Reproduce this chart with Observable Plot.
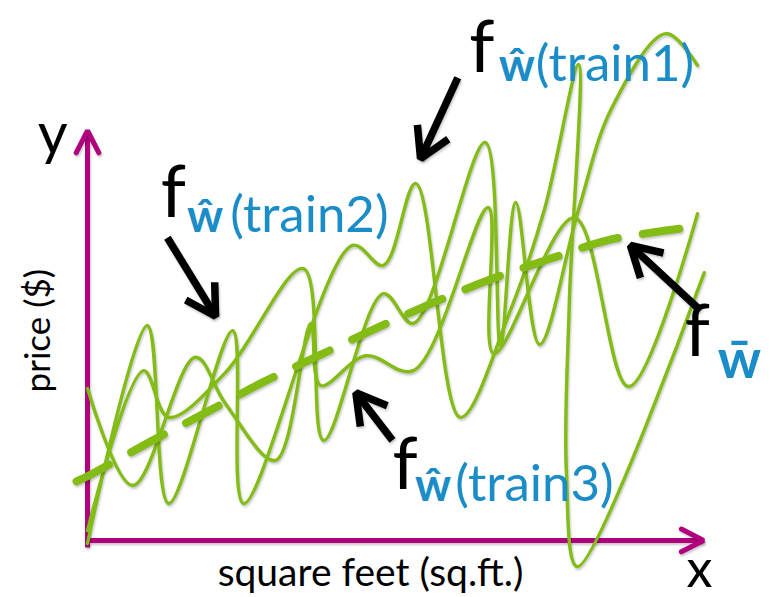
<!DOCTYPE html>
<html>
<head>
<meta charset="utf-8">
<script src="https://cdn.jsdelivr.net/npm/d3@7"></script>
<script src="https://cdn.jsdelivr.net/npm/@observablehq/plot@0.6"></script>
<style>
  html, body { margin: 0; padding: 0; background: #fff; }
  #chart svg { display: block; }
  #chart g.shadowed { filter: drop-shadow(1.5px 2px 1.2px rgba(0,0,0,0.22)); }
</style>
</head>
<body>
<div id="chart"></div>
<script>
// Three high-complexity fits, one per training set (x = square feet, y = price, arbitrary units 0–100)
const train1X = [0.0, 9.8, 13.3, 23.8, 25.6, 43.4, 48.5, 53.8, 61.1, 69.3, 74.9, 80.5, 79.0, 78.5, 80.3, 101.1];
const train1Y = [0.0, 42.5, 7.8, 41.5, 7.8, 58.1, 54.2, 70.2, 24.6, 45.4, 65.1, 93.4, 47.4, 14.2, -4.5, 52.8];

const train2X = [0.0, 9.2, 13.3, 22.6, 35.4, 38.7, 48.5, 53.4, 65.2, 67.7, 70.2, 74.1, 80.5, 85.9, 94.8, 100.0];
const train2Y = [2.5, 33.7, 24.6, 33.3, 53.6, 20.1, 48.7, 42.9, 78.2, 38.6, 66.5, 38.8, 65.1, 84.8, 99.4, 93.2];

const train3X = [0.0, 7.4, 17.7, 22.6, 30.8, 36.6, 38.2, 45.6, 53.4, 65.7, 66.6, 79.8, 88.7, 100.0];
const train3Y = [30.2, 11.3, 36.3, 27.3, 16.2, 42.9, 30.8, 36.6, 33.7, 65.5, 37.0, 63.5, 30.6, 64.3];

// Average of the fits (dashed)
const meanX = [-1.8, 0.8, 10.7, 19.7, 28.7, 37.9, 47.2, 56.4, 66.1, 75.6, 85.2, 94.8, 97.2];
const meanY = [12.1, 13.6, 20.1, 25.7, 31.4, 36.6, 41.9, 46.8, 51.5, 55.4, 59.1, 61.0, 61.4];

// Axis extents
const axisXEnd = 101.0, axisYEnd = 80.5, axisBase = 0.6;

// Callout arrows: tail -> tip
const arrowNames = ["train1", "train2", "train3", "mean"];
const arrowTail = [[60.7, 90.8], [13.1, 59.6], [50.0, 20.1], [100.5, 45.4]];
const arrowTip  = [[54.6, 75.0], [21.0, 44.3], [44.0, 29.4], [89.0, 58.1]];

// Label texts and positions
const fLabelX = [62.6, 12.0, 50.0, 97.9];
const fLabelY = [92.0, 63.7, 10.7, 36.6];
const subHatX = [67.4, 16.3, 53.7];
const subHatY = [90.1, 60.8, 8.2];
const subTextX = [73.5, 23.4, 60.3];
const subText = ["(train1)", "(train2)", "(train3)"];

const W = 770, H = 597;
const M = {top: 30, right: 73, bottom: 54, left: 87};
const kx = (W - M.left - M.right) / 100;   // px per x unit
const ky = (H - M.top - M.bottom) / 100;   // px per y unit

const GREEN = "#82bc14", MAGENTA = "#b1007e", BLUE = "#1a8cc8";

const toRows = (xs, ys, name) => xs.map((x, i) => ({x, y: ys[i], name}));
const fits = [
  ...toRows(train1X, train1Y, "train1"),
  ...toRows(train2X, train2Y, "train2"),
  ...toRows(train3X, train3Y, "train3")
];
const mean = toRows(meanX, meanY, "mean");

// Chevron head at `tip`, wings pointing back toward `tail`
function chevron(tip, tail, lenPx, halfDeg, name) {
  const dx = (tail[0] - tip[0]) * kx, dy = -(tail[1] - tip[1]) * ky;
  const L = Math.hypot(dx, dy), ux = dx / L, uy = dy / L;
  const a = halfDeg * Math.PI / 180;
  const wing = s => {
    const c = Math.cos(s * a), sn = Math.sin(s * a);
    const wx = ux * c - uy * sn, wy = ux * sn + uy * c;
    return {x: tip[0] + wx * lenPx / kx, y: tip[1] - wy * lenPx / ky, name};
  };
  return [wing(1), {x: tip[0], y: tip[1], name}, wing(-1)];
}

const axisLines = [
  {x: 0, y: -0.8, name: "y"}, {x: 0, y: axisYEnd, name: "y"},
  {x: -0.4, y: axisBase, name: "x"}, {x: axisXEnd, y: axisBase, name: "x"}
];
const axisHeads = [
  ...chevron([0, axisYEnd], [0, 0], 25, 27, "y"),
  ...chevron([axisXEnd, axisBase], [0, axisBase], 25, 27, "x")
];
const shafts = arrowNames.map((name, i) => ({
  x1: arrowTail[i][0], y1: arrowTail[i][1], x2: arrowTip[i][0], y2: arrowTip[i][1], name
}));
const heads = arrowNames.flatMap((name, i) => chevron(arrowTip[i], arrowTail[i], 34, 30, name));

const FONT = "Lato, 'Open Sans', sans-serif";

const chart = Plot.plot({
  width: W, height: H,
  marginTop: M.top, marginRight: M.right, marginBottom: M.bottom, marginLeft: M.left,
  x: {domain: [0, 100], axis: null},
  y: {domain: [0, 100], axis: null},
  style: {background: "white", fontFamily: FONT, overflow: "visible"},
  marks: [
    // axes with arrowheads
    Plot.line(axisLines, {x: "x", y: "y", z: "name", stroke: MAGENTA, strokeWidth: 5, strokeLinecap: "butt"}),
    Plot.line(axisHeads, {x: "x", y: "y", z: "name", stroke: MAGENTA, strokeWidth: 5, strokeLinecap: "round", strokeLinejoin: "miter"}),
    // fitted functions
    Plot.line(fits, {x: "x", y: "y", z: "name", stroke: GREEN, strokeWidth: 3.4, curve: "catmull-rom"}),
    // averaged fit
    Plot.line(mean, {x: "x", y: "y", stroke: GREEN, strokeWidth: 8, strokeDasharray: "37,25", curve: "catmull-rom"}),
    // callout arrows
    Plot.link(shafts, {x1: "x1", y1: "y1", x2: "x2", y2: "y2", stroke: "black", strokeWidth: 7.5}),
    Plot.line(heads, {x: "x", y: "y", z: "name", stroke: "black", strokeWidth: 7.5, strokeLinejoin: "miter", strokeLinecap: "butt"}),
    // axis labels
    Plot.text(["y"], {x: -5.7, y: 76.0, text: d => d, fontSize: 58, textAnchor: "middle", lineAnchor: "bottom", fill: "black"}),
    Plot.text(["x"], {x: 100.3, y: -8.4, text: d => d, fontSize: 52, textAnchor: "middle", lineAnchor: "bottom", fill: "black"}),
    Plot.text(["price ($)"], {x: -6.2, y: 41.5, text: d => d, fontSize: 35, rotate: -90, textAnchor: "middle", lineAnchor: "bottom", fill: "black"}),
    Plot.text(["square feet (sq.ft.)"], {x: 46.4, y: -8.2, text: d => d, fontSize: 39, textAnchor: "middle", lineAnchor: "bottom", fill: "black"}),
    // function labels
    Plot.text(fLabelX, {x: d => d, y: (d, i) => fLabelY[i], text: () => "f", fontSize: 72, textAnchor: "start", lineAnchor: "bottom", fill: "black"}),
    Plot.text(subHatX, {x: d => d, y: (d, i) => subHatY[i], text: () => "\u0175", fontSize: 45, fontWeight: 700, textAnchor: "start", lineAnchor: "bottom", fill: BLUE}),
    Plot.text(subTextX, {x: d => d, y: (d, i) => subHatY[i], text: (d, i) => subText[i], fontSize: 51, textAnchor: "start", lineAnchor: "bottom", fill: BLUE}),
    Plot.text(["w\u0304"], {x: 103.3, y: 32.2, text: d => d, fontSize: 54, fontWeight: 700, textAnchor: "start", lineAnchor: "bottom", fill: BLUE})
  ]
});

d3.select(chart).selectAll('g[aria-label="line"], g[aria-label="link"]').classed("shadowed", true);
document.getElementById("chart").appendChild(chart);
</script>
</body>
</html>
